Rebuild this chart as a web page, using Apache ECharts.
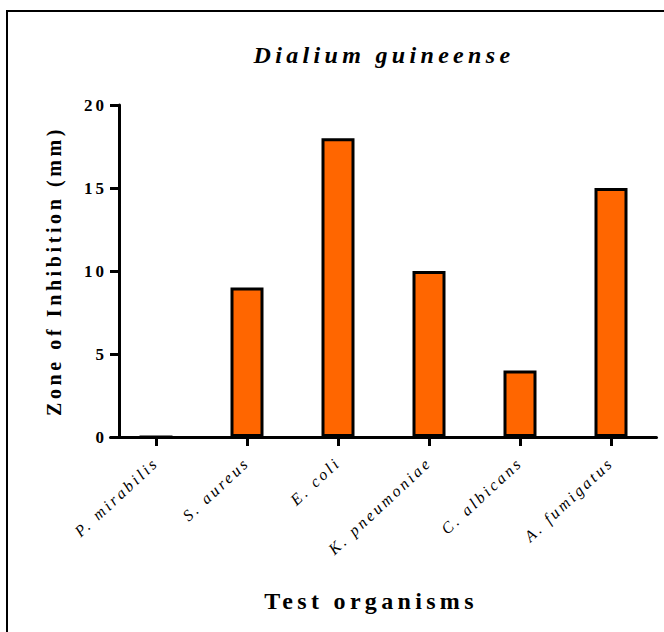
<!DOCTYPE html>
<html>
<head>
<meta charset="utf-8">
<script src="https://cdn.jsdelivr.net/npm/echarts@6/dist/echarts.min.js"></script>
<style>
  html, body { margin: 0; padding: 0; background: #fff; }
  #chart { width: 664px; height: 632px; }
  /* the original uses a Times-like face and spreads every letter out */
  #chart text {
    font-family: "Liberation Serif", "DejaVu Serif", serif !important;
    letter-spacing: 0.18em;
  }
</style>
</head>
<body>
<div id="chart"></div>
<script>
// organisms on the x axis
var organisms = ['P. mirabilis', 'S. aureus', 'E. coli', 'K. pneumoniae', 'C. albicans', 'A. fumigatus']
// zone of inhibition, mm
var zoneValues = [0, 9, 18, 10, 4, 15]
var yTicks = [0, 5, 10, 15, 20]

var serif = 'Liberation Serif'

var chart = echarts.init(document.getElementById('chart'), null, { renderer: 'svg' })
chart.setOption({
  animation: false,
  backgroundColor: '#fff',
  graphic: [
    {
      // frame round the picture, only top and left edges are visible
      type: 'rect',
      shape: { x: 7, y: 11, width: 800, height: 800 },
      style: { fill: 'none', stroke: '#000', lineWidth: 2 },
    },
    {
      type: 'text',
      style: {
        x: 384, y: 55,
        text: 'Dialium guineense',
        align: 'center', verticalAlign: 'middle',
        fontFamily: serif, fontStyle: 'italic', fontWeight: 'bold', fontSize: 24,
        fill: '#000',
      },
    },
    {
      type: 'text',
      style: {
        x: 371, y: 601,
        text: 'Test organisms',
        align: 'center', verticalAlign: 'middle',
        fontFamily: serif, fontWeight: 'bold', fontSize: 24,
        fill: '#000',
      },
    },
  ],
  grid: { left: 110.5, width: 546, top: 105, bottom: 195, containLabel: false },
  xAxis: {
    type: 'category',
    data: organisms,
    axisLine: { show: true, lineStyle: { color: '#000', width: 3 } },
    axisTick: { show: true, alignWithLabel: true, length: 9, lineStyle: { color: '#000', width: 3 } },
    axisLabel: {
      rotate: 43,
      margin: 23,
      color: '#000',
      fontFamily: serif,
      fontStyle: 'italic',
      fontSize: 16,
    },
  },
  yAxis: {
    type: 'value',
    min: yTicks[0],
    max: yTicks[yTicks.length - 1],
    interval: 5,
    offset: -8.5,
    name: 'Zone of Inhibition (mm)',
    nameLocation: 'middle',
    nameRotate: 90,
    nameGap: 55,
    nameTextStyle: { color: '#000', fontFamily: serif, fontWeight: 'bold', fontSize: 20 },
    splitLine: { show: false },
    axisLine: { show: true, lineStyle: { color: '#000', width: 3 } },
    axisTick: { show: true, length: 9, lineStyle: { color: '#000', width: 3 } },
    axisLabel: { margin: 12, color: '#000', fontFamily: serif, fontWeight: 'bold', fontSize: 17 },
  },
  series: [
    {
      type: 'bar',
      data: zoneValues,
      barWidth: 33,
      itemStyle: { color: '#ff6600', borderColor: '#000', borderWidth: 3 },
    },
  ],
})
</script>
</body>
</html>
